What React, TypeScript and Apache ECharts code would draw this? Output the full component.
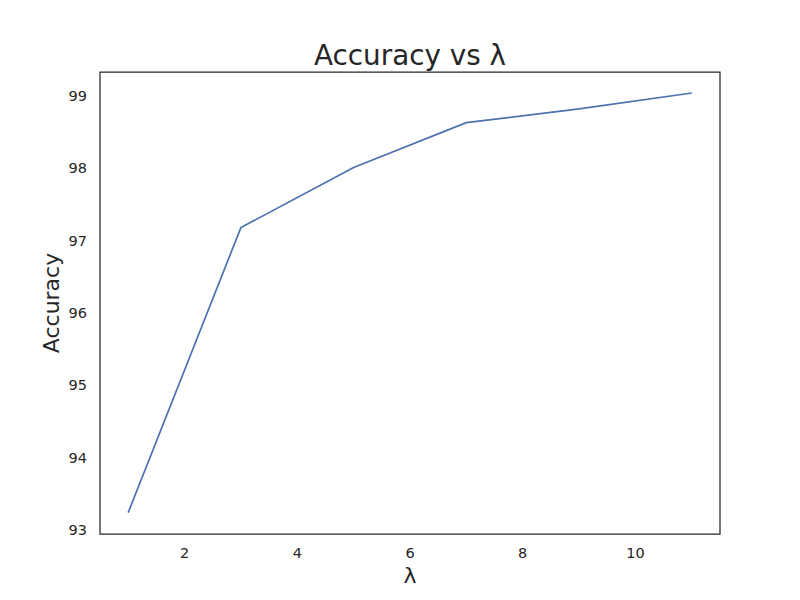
import React, { useEffect, useRef } from "react";
import * as echarts from "echarts";

const lambdas = [1, 3, 5, 7, 9, 11];
const accuracy = [93.24, 97.18, 98.01, 98.63, 98.82, 99.04];
const xTicks = [2, 4, 6, 8, 10];
const yTicks = [93, 94, 95, 96, 97, 98, 99];

const FONT = "DejaVu Sans";
const DARK = "#262626";

export default function App() {
  const ref = useRef<HTMLDivElement>(null);
  useEffect(() => {
    if (!ref.current) return;
    const chart = echarts.init(ref.current, undefined, { renderer: "svg" });
    chart.setOption({
      animation: false,
      backgroundColor: "#ffffff",
      title: {
        text: "Accuracy vs λ",
        left: 309,
        top: 36,
        textStyle: { fontFamily: FONT, fontSize: 27.8, fontWeight: "normal", color: DARK },
      },
      grid: {
        left: 100,
        top: 72,
        width: 620,
        height: 462,
        show: true,
        borderColor: DARK,
        borderWidth: 1.25,
        backgroundColor: "transparent",
      },
      xAxis: {
        type: "value",
        min: 0.5,
        max: 11.5,
        name: "λ",
        nameLocation: "middle",
        nameGap: 30,
        nameMoveOverlap: false,
        nameTextStyle: { fontFamily: FONT, fontSize: 22, color: DARK },
        axisLine: { show: false },
        axisTick: { show: false },
        splitLine: { show: false },
        axisLabel: {
          customValues: xTicks,
          fontFamily: FONT,
          fontSize: 14.5,
          color: DARK,
          margin: 11,
        },
      },
      yAxis: {
        type: "value",
        min: 92.945,
        max: 99.33,
        name: "Accuracy",
        nameLocation: "middle",
        nameGap: 38,
        nameMoveOverlap: false,
        nameTextStyle: { fontFamily: FONT, fontSize: 22, color: DARK },
        axisLine: { show: false },
        axisTick: { show: false },
        splitLine: { show: false },
        axisLabel: {
          customValues: yTicks,
          fontFamily: FONT,
          fontSize: 14.5,
          color: DARK,
          margin: 13,
        },
      },
      series: [
        {
          type: "line",
          data: lambdas.map((x, i) => [x, accuracy[i]]),
          showSymbol: false,
          symbol: "none",
          lineStyle: { color: "#4c72b0", width: 1.7 },
        },
      ],
    });
    return () => chart.dispose();
  }, []);
  return (
    <div
      ref={ref}
      style={{ position: "fixed", left: 0, top: 0, width: 800, height: 600 }}
    />
  );
}
